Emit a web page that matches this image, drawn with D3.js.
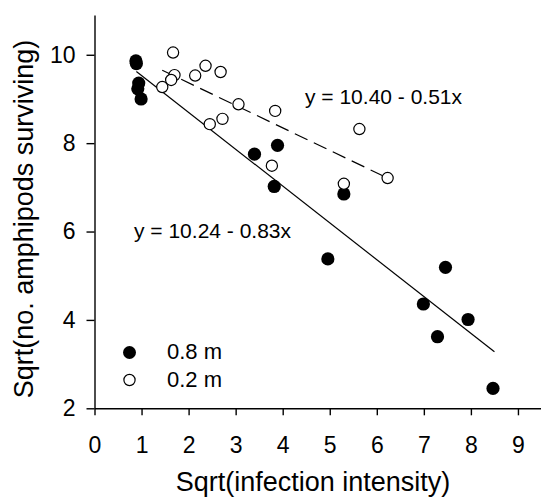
<!DOCTYPE html>
<html>
<head>
<meta charset="utf-8">
<script src="https://cdn.jsdelivr.net/npm/d3@7"></script>
<style>
  body { margin: 0; background: #fff; }
  svg { display: block; font-family: Arial, "Liberation Sans", Helvetica, sans-serif; }
</style>
</head>
<body>
<div id="chart"></div>
<script>
// 0.8 m depth (filled)
let deepX = [0.88, 0.89, 0.94, 0.92, 0.99, 3.40, 3.89, 3.82, 5.30, 4.96, 7.46, 6.99, 7.94, 7.29, 8.47];
let deepY = [9.86, 9.80, 9.36, 9.23, 9.00, 7.75, 7.95, 7.02, 6.85, 5.38, 5.19, 4.36, 4.01, 3.62, 2.45];
// 0.2 m depth (open)
let shallowX = [1.67, 1.70, 1.63, 1.44, 2.14, 2.36, 2.68, 3.06, 3.84, 2.45, 2.72, 3.77, 5.30, 5.63, 6.23];
let shallowY = [10.05, 9.54, 9.43, 9.27, 9.53, 9.75, 9.61, 8.88, 8.73, 8.43, 8.55, 7.49, 7.08, 8.32, 7.21];

// fitted lines as drawn (end points)
let deepFit = [[0.89, 9.62], [8.50, 3.28]];
let shallowFit = [[1.44, 9.65], [6.23, 7.21]];

let xTicks = [0, 1, 2, 3, 4, 5, 6, 7, 8, 9];
let yTicks = [2, 4, 6, 8, 10];

let width = 541, height = 497;

let svg = d3.select("#chart").append("svg")
    .attr("width", width)
    .attr("height", height);

let x = d3.scaleLinear().domain([0, 9.49]).range([94.5, 541]);
let y = d3.scaleLinear().domain([2, 10.9]).range([408.3, 15]);

// axes
let xAxis = svg.append("g")
    .attr("transform", "translate(0," + y(2) + ")")
    .call(d3.axisBottom(x).tickValues(xTicks).tickSize(7).tickSizeOuter(0).tickPadding(21));
let yAxis = svg.append("g")
    .attr("transform", "translate(" + x(0) + ",0)")
    .call(d3.axisLeft(y).tickValues(yTicks).tickSize(8).tickSizeOuter(0).tickPadding(11));

[xAxis, yAxis].forEach(function(g) {
    g.selectAll("path, line").attr("stroke", "#000").attr("stroke-width", 1.4);
    g.selectAll("text").attr("font-size", 23).attr("fill", "#000")
        .style("font-family", "Arial, 'Liberation Sans', sans-serif");
});

// axis titles
svg.append("text")
    .attr("x", 313)
    .attr("y", 491)
    .attr("text-anchor", "middle")
    .attr("font-size", 27)
    .text("Sqrt(infection intensity)");

svg.append("text")
    .attr("transform", "translate(33,219) rotate(-90)")
    .attr("text-anchor", "middle")
    .attr("font-size", 27)
    .text("Sqrt(no. amphipods surviving)");

// regression lines
let line = d3.line().x(function(d) { return x(d[0]); }).y(function(d) { return y(d[1]); });

svg.append("path")
    .attr("d", line(deepFit))
    .attr("fill", "none")
    .attr("stroke", "#000")
    .attr("stroke-width", 1.2);

svg.append("path")
    .attr("d", line(shallowFit))
    .attr("fill", "none")
    .attr("stroke", "#000")
    .attr("stroke-width", 1.2)
    .attr("stroke-dasharray", "14,7");

// points
svg.selectAll(".deep")
    .data(deepX.map(function(v, i) { return [v, deepY[i]]; }))
    .enter().append("circle")
    .attr("class", "deep")
    .attr("cx", function(d) { return x(d[0]); })
    .attr("cy", function(d) { return y(d[1]); })
    .attr("r", 6.6)
    .attr("fill", "#000");

svg.selectAll(".shallow")
    .data(shallowX.map(function(v, i) { return [v, shallowY[i]]; }))
    .enter().append("circle")
    .attr("class", "shallow")
    .attr("cx", function(d) { return x(d[0]); })
    .attr("cy", function(d) { return y(d[1]); })
    .attr("r", 5.6)
    .attr("fill", "#fff")
    .attr("stroke", "#000")
    .attr("stroke-width", 1.2);

// equations
svg.append("text")
    .attr("x", 305)
    .attr("y", 103.5)
    .attr("font-size", 21)
    .text("y = 10.40 - 0.51x");

svg.append("text")
    .attr("x", 134)
    .attr("y", 238)
    .attr("font-size", 21)
    .text("y = 10.24 - 0.83x");

// legend
let legend = svg.append("g");
legend.append("circle").attr("cx", 129.5).attr("cy", 352.5).attr("r", 6.5).attr("fill", "#000");
legend.append("circle").attr("cx", 129.5).attr("cy", 380).attr("r", 5.6)
    .attr("fill", "#fff").attr("stroke", "#000").attr("stroke-width", 1.2);
legend.append("text").attr("x", 167).attr("y", 359).attr("font-size", 22).text("0.8 m");
legend.append("text").attr("x", 167).attr("y", 386.5).attr("font-size", 22).text("0.2 m");
</script>
</body>
</html>
